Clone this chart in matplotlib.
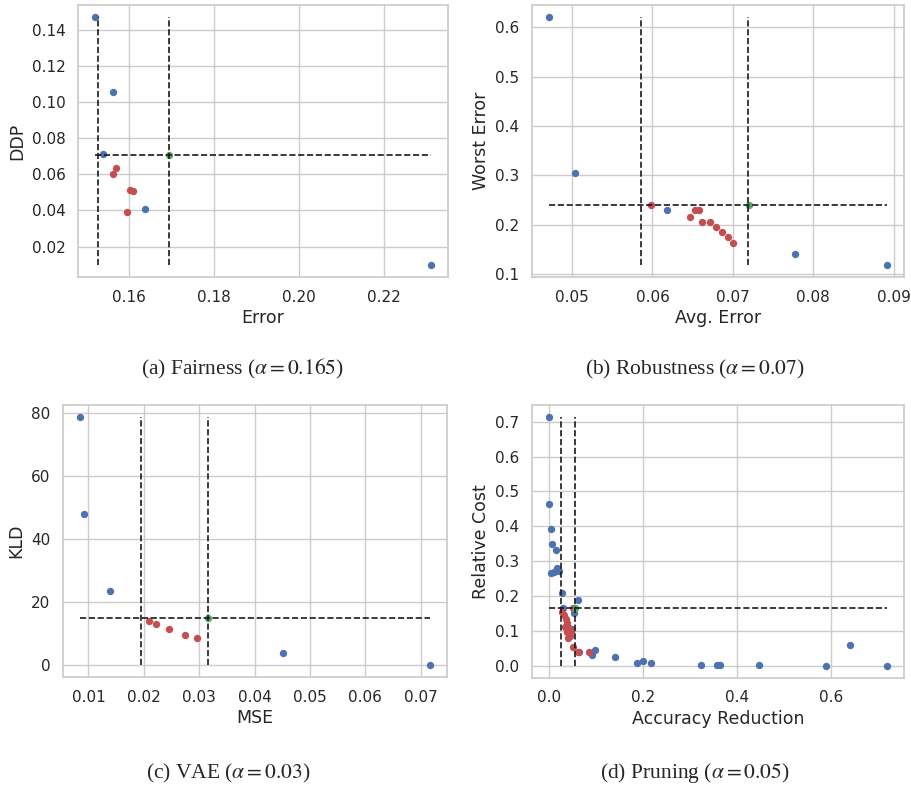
import matplotlib
matplotlib.use("Agg")
import matplotlib.pyplot as plt
from matplotlib.ticker import MultipleLocator
import seaborn as sns

sns.set_theme(style="whitegrid")
plt.rcParams['font.family'] = ['DejaVu Sans']
plt.rcParams['mathtext.fontset'] = 'stix'

blu = "#4C72B0"
ros = "#C44E52"
ver = "#55A868"

# (a) fairness
fa_blu_x = [0.1519, 0.1561, 0.1538, 0.1637, 0.2312]
fa_blu_y = [0.1470, 0.1054, 0.0711, 0.0406, 0.0100]
fa_ros_x = [0.1568, 0.1561, 0.1602, 0.1608, 0.1595]
fa_ros_y = [0.0637, 0.0600, 0.0513, 0.0507, 0.0394]
fa_ver_x = [0.1695]
fa_ver_y = [0.0709]
fa_vl = [0.1527, 0.1694]
fa_hl = 0.0709

# (b) robustness
ro_blu_x = [0.04713, 0.05037, 0.06179, 0.07775, 0.08917]
ro_blu_y = [0.6196, 0.3047, 0.2291, 0.1419, 0.1196]
ro_ros_x = [0.05979, 0.06470, 0.06532, 0.06574, 0.06615, 0.06719, 0.06785, 0.06860, 0.06935, 0.07000]
ro_ros_y = [0.2399, 0.2169, 0.2291, 0.2291, 0.2068, 0.2068, 0.1959, 0.1858, 0.1750, 0.1628]
ro_ver_x = [0.07195]
ro_ver_y = [0.2399]
ro_vl = [0.05863, 0.07191]
ro_hl = 0.2405

# (c) vae
va_blu_x = [0.00855, 0.00916, 0.01386, 0.04506, 0.07163]
va_blu_y = [78.5, 47.9, 23.4, 3.84, 0.0]
va_ros_x = [0.02102, 0.02223, 0.02452, 0.02753, 0.02964]
va_ros_y = [13.87, 12.9, 11.2, 9.5, 8.5]
va_ver_x = [0.03163]
va_ver_y = [14.8]
va_vl = [0.01952, 0.03157]
va_hl = 14.8

# (d) pruning
pr_blu_x = [0.0, 0.0, 0.0042, 0.0063, 0.0146, 0.0049, 0.0111, 0.018, 0.022, 0.0278,
            0.0306, 0.0625, 0.0528, 0.050, 0.065, 0.0917, 0.0972, 0.141, 0.1868,
            0.200, 0.2167, 0.3236, 0.358, 0.3646, 0.4465, 0.590, 0.640, 0.719]
pr_blu_y = [0.7125, 0.463, 0.391, 0.348, 0.333, 0.266, 0.268, 0.279, 0.271, 0.2075,
            0.165, 0.188, 0.151, 0.106, 0.040, 0.031, 0.044, 0.026, 0.007,
            0.014, 0.007, 0.001, 0.003, 0.001, 0.001, 0.0, 0.058, 0.0]
pr_ros_x = [0.0271, 0.0326, 0.0361, 0.039, 0.034, 0.042, 0.0375, 0.046, 0.041, 0.045,
            0.052, 0.062, 0.0847, 0.0514]
pr_ros_y = [0.154, 0.144, 0.134, 0.123, 0.112, 0.108, 0.096, 0.098, 0.079, 0.084,
            0.053, 0.038, 0.038, 0.165]
pr_ver_x = [0.0563]
pr_ver_y = [0.165]
pr_vl = [0.0257, 0.0563]
pr_hl = 0.1652

pannelli = [
    (fa_blu_x, fa_blu_y, fa_ros_x, fa_ros_y, fa_ver_x, fa_ver_y, fa_vl, fa_hl, "Error", "DDP",
     [78, 5, 448, 277], None),
    (ro_blu_x, ro_blu_y, ro_ros_x, ro_ros_y, ro_ver_x, ro_ver_y, ro_vl, ro_hl, "Avg. Error", "Worst Error",
     [532, 5, 904, 277], None),
    (va_blu_x, va_blu_y, va_ros_x, va_ros_y, va_ver_x, va_ver_y, va_vl, va_hl, "MSE", "KLD",
     [63, 405, 447, 677], None),
    (pr_blu_x, pr_blu_y, pr_ros_x, pr_ros_y, pr_ver_x, pr_ver_y, pr_vl, pr_hl, "Accuracy Reduction", "Relative Cost",
     [532, 405, 904, 678], 0.2),
]

W, H = 912, 787
fig = plt.figure(figsize=(W / 100, H / 100), dpi=100)

for bx, by, rx, ry, gx, gy, vl, hl, xl, yl, box, passo in pannelli:
    l, t, r, b = box
    ax = fig.add_axes([l / W, 1 - b / H, (r - l) / W, (b - t) / H])
    tx = bx + rx + gx
    ty = by + ry + gy
    ax.scatter(bx, by, c=blu, s=28, linewidths=0, zorder=2)
    ax.scatter(rx, ry, c=ros, s=28, linewidths=0, zorder=2)
    ax.scatter(gx, gy, c=ver, s=28, linewidths=0, zorder=2)
    ax.vlines(vl, min(ty), max(ty), colors="k", linestyles="--", linewidth=1.2, zorder=3)
    ax.hlines(hl, min(tx), max(tx), colors="k", linestyles="--", linewidth=1.2, zorder=3)
    if passo:
        ax.xaxis.set_major_locator(MultipleLocator(passo))
    ax.set_xlabel(xl, fontsize=12.5, labelpad=3)
    ax.set_ylabel(yl, fontsize=12.5)
    ax.tick_params(labelsize=11, pad=3)

didascalie = [
    (242, 369, r"(a) Fairness ($\alpha = 0.165$)"),
    (695, 369, r"(b) Robustness ($\alpha = 0.07$)"),
    (228, 773, r"(c) VAE ($\alpha = 0.03$)"),
    (695, 773, r"(d) Pruning ($\alpha = 0.05$)"),
]
for x, y, s in didascalie:
    fig.text(x / W, 1 - y / H, s, ha="center", va="center", fontsize=15.5,
             family="Liberation Serif")

fig.savefig("out.png", dpi=100)
